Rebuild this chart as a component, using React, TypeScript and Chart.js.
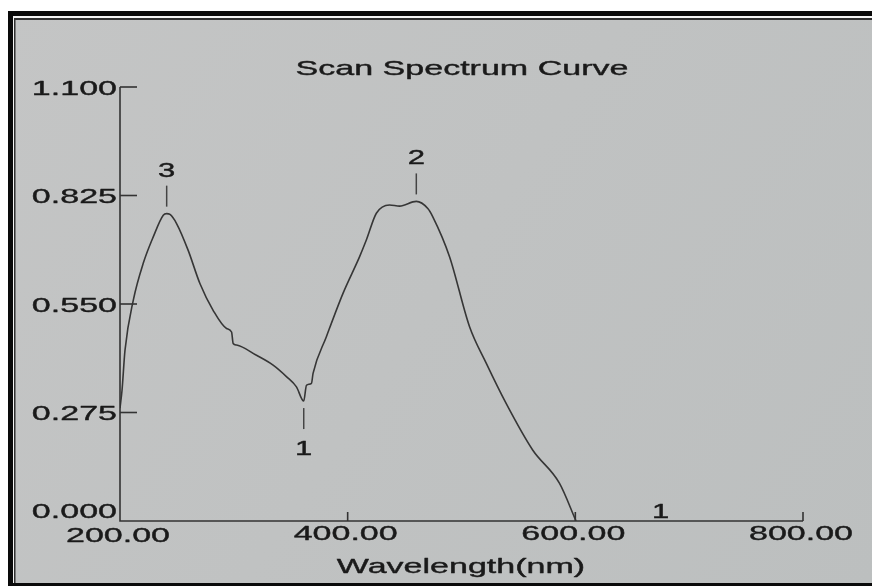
import React, { useEffect, useRef } from "react";
import { Chart, registerables } from "chart.js";

Chart.register(...registerables);

const wavelengths = [
  200, 201.8, 204.4, 211.7, 220.4, 229.2, 238, 241, 243.9, 249.7, 259.9, 270.2,
  281.8, 293.6, 298, 299.4, 302.4, 319.9, 334.5, 346.2, 355, 361.4, 363.8, 368.2,
  369.6, 381.3, 395.9, 410.5, 416.4, 425.2, 436.8, 445.6, 460.3, 470.4, 474.8,
  489.5, 507, 521.7, 539.2, 562.5, 586, 600.6,
];
const absorbance = [
  0.286, 0.332, 0.433, 0.56, 0.653, 0.72, 0.775, 0.779, 0.777, 0.754, 0.686, 0.602,
  0.534, 0.488, 0.479, 0.45, 0.446, 0.42, 0.395, 0.366, 0.34, 0.304, 0.344, 0.349,
  0.374, 0.467, 0.577, 0.67, 0.712, 0.78, 0.801, 0.798, 0.81, 0.792, 0.771,
  0.67, 0.493, 0.4, 0.298, 0.18, 0.096, 0.0,
];
const yTicks = [0, 0.275, 0.55, 0.825, 1.1];
const yTickLabels = ["0.000", "0.275", "0.550", "0.825", "1.100"];
const xTicks = [200, 400, 600, 800];
const xTickLabels = ["200.00", "400.00", "600.00", "800.00"];
const peakWl = [241, 460.3, 361.4];
const peakVal = [0.779, 0.81, 0.304];
const peakLabels = ["3", "2", "1"];
const peakDir = [-1, -1, 1];
const extraMarkWl = 675;
const extraMarkLabel = "1";

const TITLE = "Scan Spectrum Curve";
const X_TITLE = "Wavelength(nm)";

const SX = 1.62;
const FONT = "21px 'Liberation Sans', Arial, sans-serif";
const SMALL_FONT = "20px 'Liberation Sans', Arial, sans-serif";
const INK = "#1a1a1a";

function stretchText(
  ctx: CanvasRenderingContext2D,
  text: string,
  x: number,
  y: number,
  align: CanvasTextAlign,
  font = FONT,
  sx = SX
) {
  ctx.save();
  ctx.translate(x, y);
  ctx.scale(sx, 1);
  ctx.font = font;
  ctx.fillStyle = INK;
  ctx.strokeStyle = INK;
  ctx.lineWidth = 0.4;
  ctx.lineJoin = "round";
  ctx.textAlign = align;
  ctx.textBaseline = "alphabetic";
  ctx.fillText(text, 0, 0);
  ctx.strokeText(text, 0, 0);
  ctx.restore();
}

const framePlugin = {
  id: "frame",
  beforeDraw(chart: any) {
    const ctx: CanvasRenderingContext2D = chart.ctx;
    const W = chart.width;
    const H = chart.height;
    ctx.save();
    ctx.fillStyle = "#ffffff";
    ctx.fillRect(0, 0, W, H);
    const g = ctx.createLinearGradient(0, 0, W, H);
    g.addColorStop(0, "#c4c5c5");
    g.addColorStop(1, "#bcbfbf");
    ctx.fillStyle = g;
    ctx.fillRect(8, 11, W - 8, H - 11);
    ctx.fillStyle = "#0a0a0a";
    ctx.fillRect(8, 11, W - 8, 5);
    ctx.fillRect(8, 11, 5, H - 11);
    ctx.fillRect(8, H - 3, W - 8, 3);
    ctx.fillStyle = "#f4f4f4";
    ctx.fillRect(13, 16, W - 13, 2);
    ctx.fillRect(13, 16, 1, H - 19);
    ctx.fillStyle = "#303030";
    ctx.fillRect(14, 18, W - 14, 2);
    ctx.fillRect(14, 18, 1.5, H - 21);
    ctx.restore();
  },
  afterDraw(chart: any) {
    const ctx: CanvasRenderingContext2D = chart.ctx;
    const xs = chart.scales.x;
    const ys = chart.scales.y;
    const x0 = xs.getPixelForValue(200);
    const x1 = xs.getPixelForValue(800);
    const y0 = ys.getPixelForValue(0);
    const y1 = ys.getPixelForValue(1.1);
    ctx.save();
    ctx.strokeStyle = "#333333";
    ctx.lineWidth = 1.6;
    ctx.beginPath();
    ctx.moveTo(x0, y1);
    ctx.lineTo(x0, y0);
    ctx.lineTo(x1, y0);
    ctx.stroke();
    yTicks.forEach((v, i) => {
      const py = ys.getPixelForValue(v);
      ctx.strokeStyle = "#333333";
      ctx.lineWidth = 1.6;
      if (v > 0) {
        ctx.beginPath();
        ctx.moveTo(x0, py);
        ctx.lineTo(x0 + 17, py);
        ctx.stroke();
      }
      const base = v > 0 ? py + 7.5 : py - 3;
      stretchText(ctx, yTickLabels[i], x0 - 3, base, "right");
    });
    xTicks.forEach((v, i) => {
      const px = xs.getPixelForValue(v);
      ctx.strokeStyle = "#333333";
      ctx.lineWidth = 1.6;
      if (v > 200) {
        ctx.beginPath();
        ctx.moveTo(px, y0);
        ctx.lineTo(px, y0 - 9);
        ctx.stroke();
      }
      stretchText(ctx, xTickLabels[i], px - 2, y0 + (v === 200 ? 21 : 19), "center");
    });
    peakWl.forEach((w, i) => {
      const px = xs.getPixelForValue(w);
      const py = ys.getPixelForValue(peakVal[i]);
      const d = peakDir[i];
      ctx.strokeStyle = "#444444";
      ctx.lineWidth = 1.5;
      ctx.beginPath();
      ctx.moveTo(px, py + d * 7);
      ctx.lineTo(px, py + d * 28);
      ctx.stroke();
      const base = d < 0 ? py - 37 : py + 54;
      stretchText(ctx, peakLabels[i], px, base, "center", SMALL_FONT, 1.55);
    });
    stretchText(ctx, extraMarkLabel, xs.getPixelForValue(extraMarkWl), y0 - 3, "center", SMALL_FONT, 1.55);
    stretchText(ctx, TITLE, 462, 75, "center");
    stretchText(ctx, X_TITLE, 461, 573, "center");
    ctx.restore();
  },
};

export default function App() {
  const ref = useRef<HTMLCanvasElement | null>(null);
  useEffect(() => {
    if (!ref.current) return;
    const chart = new Chart(ref.current, {
      type: "scatter",
      data: {
        datasets: [
          {
            data: wavelengths.map((w, i) => ({ x: w, y: absorbance[i] })),
            showLine: true,
            borderColor: "#363636",
            borderWidth: 1.6,
            pointRadius: 0,
            cubicInterpolationMode: "monotone",
            fill: false,
          },
        ],
      },
      options: {
        animation: false,
        responsive: false,
        devicePixelRatio: 1,
        layout: { padding: { left: 120, right: 69, top: 87, bottom: 65 } },
        plugins: {
          legend: { display: false },
          tooltip: { enabled: false },
          title: { display: false },
        },
        scales: {
          x: { type: "linear", min: 200, max: 800, display: false },
          y: { type: "linear", min: 0, max: 1.1, display: false },
        },
      },
      plugins: [framePlugin],
    });
    return () => chart.destroy();
  }, []);
  return (
    <div style={{ position: "fixed", left: 0, top: 0, width: 872, height: 586 }}>
      <canvas ref={ref} width={872} height={586} style={{ width: 872, height: 586, display: "block" }} />
    </div>
  );
}
